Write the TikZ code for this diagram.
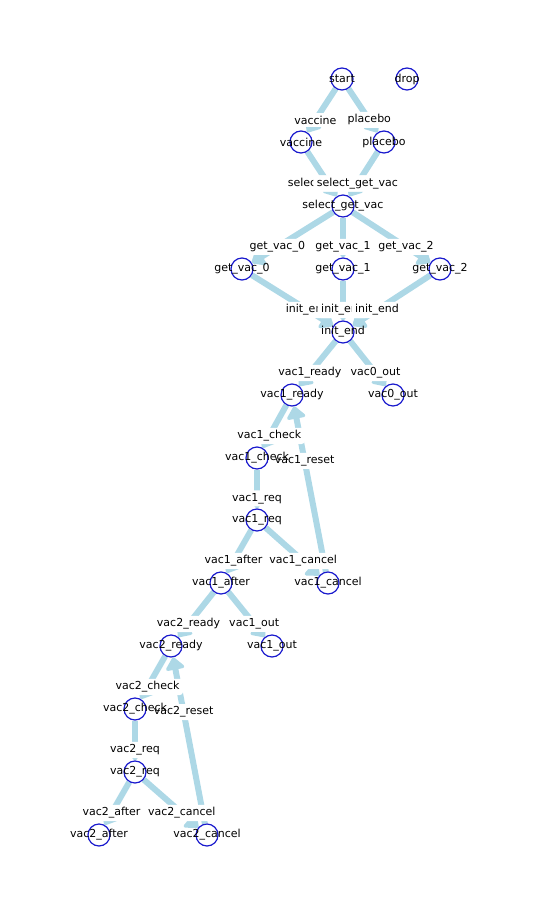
\documentclass[tikz,border=0pt]{standalone}
\usepackage{fontspec}
\setmainfont{DejaVu Sans}
\usetikzlibrary{arrows.meta,calc}
\pgfdeclarelayer{bg}
\pgfdeclarelayer{mid}
\pgfsetlayers{bg,mid,main}
\definecolor{edgeblue}{HTML}{ADD8E6}
\definecolor{nodeblue}{RGB}{25,25,205}
\begin{document}
\begin{tikzpicture}[x=0.75pt,y=-0.75pt,
  txt/.style={font=\fontsize{8.25}{10}\selectfont},
  vnode/.style={circle,draw=nodeblue,line width=0.9pt,fill=white,minimum size=16.5pt,inner sep=0pt,
     label={[txt,inner sep=0pt]center:#1}},
  edge/.style={draw=edgeblue,line width=4.5pt,-{Triangle[length=10pt,width=16pt,round]}},
  elbl/.style={txt,fill=white,inner xsep=2.6pt,inner ysep=2pt,rounded corners=2.5pt}]
\useasboundingbox (0,0) rectangle (542,914);
% nodes
\node[vnode=start] (start) at (342,79) {};
\node[vnode=drop] (drop) at (407,79) {};
\node[vnode=vaccine] (vaccine) at (301,142) {};
\node[vnode=placebo] (placebo) at (384,142) {};
\node[vnode=select\_get\_vac] (sgv) at (343,206) {};
\node[vnode=get\_vac\_0] (gv0) at (242,269) {};
\node[vnode=get\_vac\_1] (gv1) at (343,269) {};
\node[vnode=get\_vac\_2] (gv2) at (440,269) {};
\node[vnode=init\_end] (ie) at (343,332) {};
\node[vnode=vac1\_ready] (v1r) at (292,395) {};
\node[vnode=vac0\_out] (v0o) at (393,395) {};
\node[vnode=vac1\_check] (v1c) at (257,458) {};
\node[vnode=vac1\_req] (v1q) at (257,520) {};
\node[vnode=vac1\_after] (v1a) at (221,583) {};
\node[vnode=vac1\_cancel] (v1x) at (328,583) {};
\node[vnode=vac2\_ready] (v2r) at (171,646) {};
\node[vnode=vac1\_out] (v1o) at (272,646) {};
\node[vnode=vac2\_check] (v2c) at (135,709) {};
\node[vnode=vac2\_req] (v2q) at (135,772) {};
\node[vnode=vac2\_after] (v2a) at (99,835) {};
\node[vnode=vac2\_cancel] (v2x) at (207,835) {};
% edges
\begin{pgfonlayer}{bg}
\draw[edge] (start) -- (vaccine);
\draw[edge] (start) -- (placebo);
\draw[edge] (vaccine) -- (sgv);
\draw[edge] (placebo) -- (sgv);
\draw[edge] (sgv) -- (gv0);
\draw[edge] (sgv) -- (gv1);
\draw[edge] (sgv) -- (gv2);
\draw[edge] (gv0) -- (ie);
\draw[edge] (gv1) -- (ie);
\draw[edge] (gv2) -- (ie);
\draw[edge] (ie) -- (v1r);
\draw[edge] (ie) -- (v0o);
\draw[edge] (v1r) -- (v1c);
\draw[edge] (v1c) -- (v1q);
\draw[edge] (v1q) -- (v1a);
\draw[edge] (v1q) -- (v1x);
\draw[edge] (v1x) -- (v1r);
\draw[edge] (v1a) -- (v2r);
\draw[edge] (v1a) -- (v1o);
\draw[edge] (v2r) -- (v2c);
\draw[edge] (v2c) -- (v2q);
\draw[edge] (v2q) -- (v2a);
\draw[edge] (v2q) -- (v2x);
\draw[edge] (v2x) -- (v2r);
\end{pgfonlayer}
% edge labels
\begin{pgfonlayer}{mid}
\node[elbl] (l1) at ($(vaccine)!0.35!(start)$) {vaccine};
\node[elbl] (l2) at ($(placebo)!0.35!(start)$) {placebo};
\node[elbl] (l3) at ($(sgv)!0.35!(vaccine)$) {select\_get\_vac};
\node[elbl] (l4) at ($(sgv)!0.35!(placebo)$) {select\_get\_vac};
\node[elbl] (l5) at ($(gv0)!0.35!(sgv)$) {get\_vac\_0};
\node[elbl] (l6) at ($(gv1)!0.35!(sgv)$) {get\_vac\_1};
\node[elbl] (l7) at ($(gv2)!0.35!(sgv)$) {get\_vac\_2};
\node[elbl] (l8) at ($(ie)!0.35!(gv0)$) {init\_end};
\node[elbl] (l9) at ($(ie)!0.35!(gv1)$) {init\_end};
\node[elbl] (l10) at ($(ie)!0.35!(gv2)$) {init\_end};
\node[elbl] (l11) at ($(v1r)!0.35!(ie)$) {vac1\_ready};
\node[elbl] (l12) at ($(v0o)!0.35!(ie)$) {vac0\_out};
\node[elbl] (l13) at ($(v1c)!0.35!(v1r)$) {vac1\_check};
\node[elbl] (l14) at ($(v1q)!0.35!(v1c)$) {vac1\_req};
\node[elbl] (l15) at ($(v1a)!0.35!(v1q)$) {vac1\_after};
\node[elbl] (l16) at ($(v1x)!0.35!(v1q)$) {vac1\_cancel};
\node[elbl] (l17) at ($(v1r)!0.35!(v1x)$) {vac1\_reset};
\node[elbl] (l18) at ($(v2r)!0.35!(v1a)$) {vac2\_ready};
\node[elbl] (l19) at ($(v1o)!0.35!(v1a)$) {vac1\_out};
\node[elbl] (l20) at ($(v2c)!0.35!(v2r)$) {vac2\_check};
\node[elbl] (l21) at ($(v2q)!0.35!(v2c)$) {vac2\_req};
\node[elbl] (l22) at ($(v2a)!0.35!(v2q)$) {vac2\_after};
\node[elbl] (l23) at ($(v2x)!0.35!(v2q)$) {vac2\_cancel};
\node[elbl] (l24) at ($(v2r)!0.35!(v2x)$) {vac2\_reset};
\end{pgfonlayer}
\end{tikzpicture}
\end{document}
